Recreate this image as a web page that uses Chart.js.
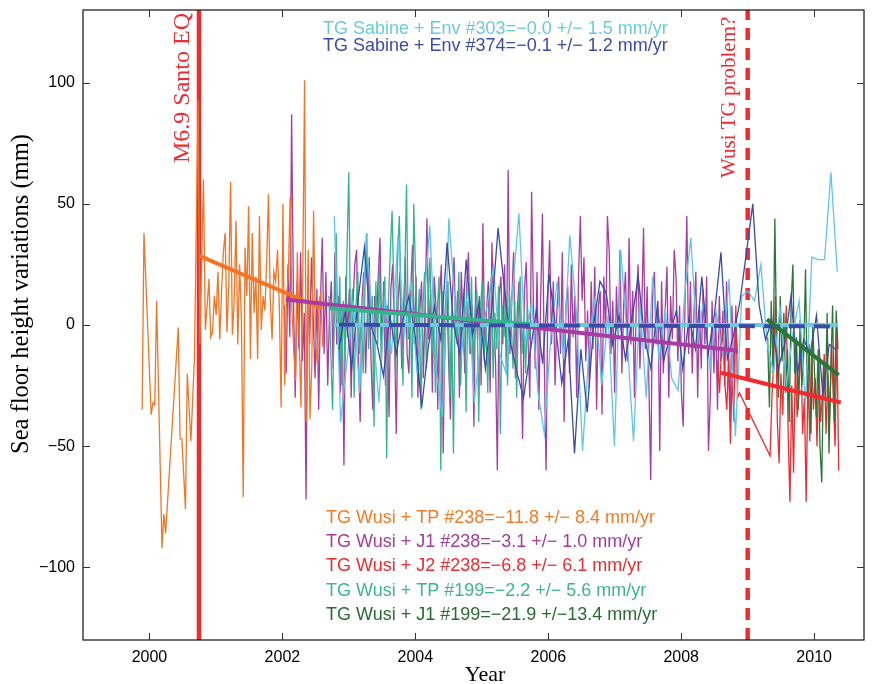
<!DOCTYPE html>
<html>
<head>
<meta charset="utf-8">
<script src="https://cdn.jsdelivr.net/npm/chart.js@4.4.1/dist/chart.umd.min.js"></script>
<style>
  html, body { margin: 0; padding: 0; background: #fff; }
  #wrap { width: 872px; height: 684px; }
</style>
</head>
<body>
<div id="wrap"><canvas id="c" width="872" height="684"></canvas></div>
<script>
// Repeat-cycle spacing of the altimeter passes, in years
const CYCLE_TPJ = 0.02715;   // TOPEX/Poseidon, Jason-1, Jason-2 (~9.92 d)
const CYCLE_ENV = 0.0958;    // Envisat (35 d)

const xTicks = [2000, 2002, 2004, 2006, 2008, 2010];
const yTicks = [-100, -50, 0, 50, 100];

// Event markers (decimal year)
const quakeYear = 2000.745;
const tgProblemYear = 2009.0;

// TG Wusi + TP #238 (null = missing cycle)
const wusiTP238Start = 1999.89;
const wusiTP238 = [
  -35, 38, null, null, null, -37, -32, -33, 10, null,
  null, -92, -78, -86, null, null, null, null, null, null,
  -1, -47, -47, null, -76, -20, null, -48, null, -13,
  null, 93, -8, 28, 60, -2, 8, 19, -5, -3,
  12, 4, 22, -6, 14, 30, 38, -3, 16, 59,
  -4, 10, 43, -8, 25, 2, -71, 32, 12, 49,
  -14, 38, 5, 20, -14, 45, -2, 12, 6, 26,
  54, 10, -6, 22, 18, 31, 8, -34, 50, -25,
  12, 20, 53, 6, -10, -23, 30, -5, -34, 20,
  101, -40, 31, -39, -17, 47, -6, -16, 10, 13,
  -9
];

// TG Wusi + J1 #238
const wusiJ1_238Start = 2002.03;
const wusiJ1_238 = [
  8, -20, 25, -5, 87, 12, -30, 18, -10, 30,
  -15, 5, -72, 20, -8, 28, 2, -22, 15, -35,
  10, 36, -12, 22, -25, 5, 18, -18, 30, -8,
  12, -28, 6, -58, 20, -5, 15, -30, 8, 25,
  31, -12, -40, 10, 22, -20, 5, 28, -15, -35,
  12, 0, 20, 36, -10, 18, -25, 8, -38, 15,
  25, -5, -45, 10, 22, -18, 6, 28, -12, -20,
  14, 33, -8, 20, -30, 5, 18, -22, 10, 44,
  -6, 15, -28, 20, 8, -35, 12, 25, -53, 5,
  18, -15, -39, 10, 28, -5, 14, -30, 22, 2,
  -20, 16, 30, -12, 8, -42, 20, -6, 12, -25,
  42, -10, 6, 18, -28, 34, 4, -15, -60, 12,
  20, -8, 25, -20, 64, -12, 10, 30, -22, 5,
  18, -10, -47, 14, 26, -6, -30, 55, 8, -18,
  22, -35, 10, 46, -15, -60, 12, 35, -8, 18,
  -25, 6, 20, -12, 30, -40, 8, 16, -20, 25,
  -5, 12, -30, 20, 45, 10, 28, -15, 6, -26,
  18, -10, 24, -35, 8, 14, -37, 20, -5, 45,
  30, -12, 10, -28, 16, -6, 31, -20, 8, 22,
  -15, 36, -8, 14, -30, 10, 25, -18, 5, 40,
  -10, 16, -25, -64, 12, 22, -8, 10, -52, 18,
  -20, 6, 24, -30, 12, -6, 31, 20, -15, 8,
  -28, -42, 10, 45, -12, 18, -20, 6, 22, -30,
  8, -18, 15, -8, 20, -52, -30, 10, -20, 5,
  -35, 12, -15, 6, -25, 18, -10, -40, 8, -22,
  4, -12
];

// TG Wusi + J2 #238
const wusiJ2_238Start = 2008.55;
const wusiJ2_238 = [
  -15, -28, -10, -2, -25, -35, -12, -49, -20, -40,
  8, -30, -28, null, null, null, null, null, null, null,
  null, null, null, null, null, null, null, null, null, -54,
  -30, -16, 12, -40, -57, -20, -37, -10, 8, -45,
  -73, -25, -61, -15, -38, -28, -5, -45, -30, -73,
  -20, -48, -10, -35, -22, -50, -15, -40, -28, -12,
  -45, -20, -38, -8, -30, -50, -2, -60
];

// TG Wusi + TP #199
const wusiTP199Start = 2002.70;
const wusiTP199 = [
  12, -10, -35, 5, 38, -8, 20, -25, 10, -15,
  30, 63, -5, 15, -30, 8, 22, -12, 4, -20,
  16, 38, -10, 6, 12, -42, 18, -8, 25, -18,
  5, 20, -55, 10, 30, 47, 14, -20, 28, 45,
  8, -25, 20, 58, -6, 12, -30, 50, 21, -10,
  15, -35, 6, 22, -18, 10, 28, -12, 14, -28,
  5, 20, -60, 14, -20, 8, 18, -30, 6, -53,
  12, -8, 22, -25, 4, 15, -36, 10, -12, 20,
  -20, 6, 14, -40, 8, 18, -15, 2, -28, 12,
  20, -22, 5, -10, 16, -45, 8, -5, 12, -25,
  14, 2, -18, 10, -30, 6, 20, -12, 4, -20,
  8, -6, 2
];

// TG Wusi + J1 #199
const wusiJ1_199Start = 2009.30;
const wusiJ1_199 = [
  -5, -34, 10, -20, 44, -8, -30, 12, -15, 5,
  -28, -10, -40, 8, 25, -20, -5, -35, 2, -25,
  -12, 23, -30, -8, -45, 0, -20, -38, -10, -50,
  -65, -15, -30, 5, -53, -20, 8, -40, 6, -10
];

// TG Sabine + Env #303
const sabineEnv303Start = 2002.78;
const sabineEnv303 = [
  45, -40, -15, 10, -28, 37, 2, -32, 12, -12,
  37, -5, 18, -20, 6, 41, -18, -38, 44, 8,
  -12, 16, -32, -6, 8, 24, -12, -20, 14, 46,
  -8, 10, -28, -45, -5, 18, -14, 37, 6, -52,
  -10, 12, -25, 4, -50, 31, -6, -48, 10, -30,
  20, -14, 6, -22, -27, 12, 36, -8, 10, -18,
  5, -12, 19, -46, 12, 14, 10, 25, -8, -20,
  8, -25, -4, 10, -33, 28, 27, 27, 63, 22
];

// TG Sabine + Env #374
const sabineEnv374Start = 2002.85;
const sabineEnv374 = [
  -10, 6, -18, 10, 32, 0, -8, -21, 4, -12,
  2, 12, -5, -34, -10, 8, -6, 34, 0, -12,
  27, -4, 9, -18, 6, 40, 15, -8, -20, -30,
  -12, 6, -16, 21, 0, -24, -6, -53, -10, -36,
  0, 18, 13, -8, 4, -14, 2, 20, -5, -18,
  8, -15, -4, 6, -18, 3, -10, 20, -12, 5,
  30, -14, -4, 10, 30, 50, 8, -6, 2, -18,
  -8, 12, -20, -6, -12, 4, -29, -8, -10
];

// Linear trends: [year, mm] at each end
const trendTP238 = [[2000.75, 28.5], [2002.6, 6.8]];
const trendJ1_238 = [[2002.05, 10.5], [2008.85, -10.6]];
const trendJ2_238 = [[2008.6, -19.7], [2010.4, -32]];
const trendTP199 = [[2002.7, 7], [2005.75, 0.3]];
const trendJ1_199 = [[2009.29, 2.3], [2010.37, -20.7]];
const trendEnv303 = [[2002.78, 0], [2010.36, 0]];
const trendEnv374 = [[2002.85, 0.1], [2010.36, -0.6]];

const COL = {
  orange: '#F37424',
  purple: '#A73CA3',
  red: '#EE2B30',
  teal: '#35B38C',
  green: '#2A7636',
  skyData: '#5EC6EC',
  skyTrend: '#6DCBD8',
  navy: '#3B4AA6'
};

function series(start, step, vals) {
  return vals.map((v, i) => ({ x: start + step * i, y: v }));
}
function pairs(arr) {
  return arr.map(p => ({ x: p[0], y: p[1] }));
}
function dataLine(data, color, order) {
  return { data, borderColor: color, borderWidth: 1.3, spanGaps: true, order };
}
function trendLine(data, color, order, dash) {
  return { data: pairs(data), borderColor: color, borderWidth: 4, borderDash: dash || [], order, borderCapStyle: 'butt' };
}

const Y_MIN = -130, Y_MAX = 130;

const datasets = [
  // event lines (drawn first)
  { data: [{ x: quakeYear, y: Y_MIN }, { x: quakeYear, y: Y_MAX }], borderColor: COL.red, borderWidth: 4.5, order: 100 },
  { data: [{ x: tgProblemYear, y: Y_MIN }, { x: tgProblemYear, y: Y_MAX }], borderColor: COL.red, borderWidth: 4.5, borderDash: [12, 8], order: 100 },

  dataLine(series(wusiJ1_238Start, CYCLE_TPJ, wusiJ1_238), COL.purple, 60),
  dataLine(series(wusiTP238Start, CYCLE_TPJ, wusiTP238), COL.orange, 58),
  dataLine(series(wusiTP199Start, CYCLE_TPJ, wusiTP199), COL.teal, 56),
  dataLine(series(wusiJ2_238Start, CYCLE_TPJ, wusiJ2_238), COL.red, 54),
  dataLine(series(wusiJ1_199Start, CYCLE_TPJ, wusiJ1_199), COL.green, 52),
  dataLine(series(sabineEnv303Start, CYCLE_ENV, sabineEnv303), COL.skyData, 50),
  dataLine(series(sabineEnv374Start, CYCLE_ENV, sabineEnv374), COL.navy, 48),

  trendLine(trendTP238, COL.orange, 10),
  trendLine(trendJ1_238, COL.purple, 9),
  trendLine(trendTP199, COL.teal, 8),
  trendLine(trendEnv303, COL.skyTrend, 7),
  trendLine(trendEnv374, COL.navy, 6, [16, 9]),
  trendLine(trendJ2_238, COL.red, 5),
  trendLine(trendJ1_199, COL.green, 4)
];

const SANS = '"Liberation Sans", Arial, Helvetica, sans-serif';
const SERIF = '"Liberation Serif", "Times New Roman", serif';

const topNotes = [
  { text: 'TG Sabine + Env #303=\u22120.0 +/\u2212 1.5 mm/yr', color: '#6BCBD8' },
  { text: 'TG Sabine + Env #374=\u22120.1 +/\u2212 1.2 mm/yr', color: '#3C4CA6' }
];
const bottomNotes = [
  { text: 'TG Wusi + TP #238=\u221211.8 +/\u2212 8.4 mm/yr', color: '#F47A26' },
  { text: 'TG Wusi + J1 #238=\u22123.1 +/\u2212 1.0 mm/yr', color: '#A43C9F' },
  { text: 'TG Wusi + J2 #238=\u22126.8 +/\u2212 6.1 mm/yr', color: '#EE2B30' },
  { text: 'TG Wusi + TP #199=\u22122.2 +/\u2212 5.6 mm/yr', color: '#3DB58E' },
  { text: 'TG Wusi + J1 #199=\u221221.9 +/\u221213.4 mm/yr', color: '#2A6B33' }
];

const framePlugin = {
  id: 'frame',
  afterDatasetsDraw(chart) {
    const { ctx, chartArea: a, scales } = chart;
    ctx.save();
    ctx.strokeStyle = '#111';
    ctx.lineWidth = 1.2;
    ctx.strokeRect(a.left, a.top, a.right - a.left, a.bottom - a.top);
    ctx.strokeStyle = '#333';
    ctx.lineWidth = 1;
    const tl = 7;
    ctx.beginPath();
    xTicks.forEach(v => {
      const px = Math.round(scales.x.getPixelForValue(v)) + 0.5;
      ctx.moveTo(px, a.bottom); ctx.lineTo(px, a.bottom - tl);
      ctx.moveTo(px, a.top); ctx.lineTo(px, a.top + tl);
    });
    yTicks.forEach(v => {
      const py = Math.round(scales.y.getPixelForValue(v)) + 0.5;
      ctx.moveTo(a.left, py); ctx.lineTo(a.left + tl, py);
      ctx.moveTo(a.right, py); ctx.lineTo(a.right - tl, py);
    });
    ctx.stroke();
    ctx.restore();
  },
  afterDraw(chart) {
    const { ctx, scales } = chart;
    ctx.save();
    // rate annotations
    ctx.font = '18px ' + SANS;
    ctx.textBaseline = 'middle';
    ctx.textAlign = 'left';
    topNotes.forEach((n, i) => { ctx.fillStyle = n.color; ctx.fillText(n.text, 323, 29 + i * 17); });
    bottomNotes.forEach((n, i) => { ctx.fillStyle = n.color; ctx.fillText(n.text, 326, 518 + i * 24.2); });

    // event labels, rotated
    ctx.fillStyle = COL.red;
    ctx.font = '24px ' + SERIF;
    const qx = scales.x.getPixelForValue(quakeYear) - 16;
    ctx.save(); ctx.translate(qx, 163); ctx.rotate(-Math.PI / 2);
    ctx.fillText('M6.9 Santo EQ', 0, 0); ctx.restore();
    ctx.font = '21px ' + SERIF;
    const px = scales.x.getPixelForValue(tgProblemYear) - 18;
    ctx.save(); ctx.translate(px, 178); ctx.rotate(-Math.PI / 2);
    ctx.fillText('Wusi TG problem?', 0, 0); ctx.restore();

    // axis titles
    ctx.fillStyle = '#000';
    ctx.font = '22px ' + SERIF;
    ctx.textAlign = 'center';
    ctx.fillText('Year', 485, 675);
    ctx.font = '24.5px ' + SERIF;
    ctx.save(); ctx.translate(22, 294); ctx.rotate(-Math.PI / 2);
    ctx.fillText('Sea floor height variations (mm)', 0, 0); ctx.restore();
    ctx.restore();
  }
};

new Chart(document.getElementById('c'), {
  type: 'line',
  data: { datasets },
  options: {
    responsive: false,
    animation: false,
    devicePixelRatio: 1,
    layout: { padding: { left: 0, right: 8, top: 10, bottom: 0 } },
    plugins: { legend: { display: false }, tooltip: { enabled: false } },
    elements: { point: { radius: 0 }, line: { tension: 0 } },
    scales: {
      x: {
        type: 'linear', min: 1999, max: 2010.75,
        grid: { display: false, drawTicks: false },
        border: { display: false },
        afterBuildTicks: s => { s.ticks = xTicks.map(v => ({ value: v })); },
        afterFit: s => { s.height = 44; s.paddingLeft = 0; s.paddingRight = 0; },
        ticks: {
          padding: 8, color: '#000', autoSkip: false, maxRotation: 0,
          font: { family: SANS, size: 16 },
          callback: v => String(v)
        }
      },
      y: {
        type: 'linear', min: Y_MIN, max: Y_MAX,
        grid: { display: false, drawTicks: false },
        border: { display: false },
        afterBuildTicks: s => { s.ticks = yTicks.map(v => ({ value: v })); },
        afterFit: s => { s.width = 83; s.paddingTop = 0; s.paddingBottom = 0; },
        ticks: {
          padding: 8, color: '#000',
          font: { family: SANS, size: 16 },
          callback: v => (v < 0 ? '\u2212' + Math.abs(v) : String(v))
        }
      }
    }
  },
  plugins: [framePlugin]
});
</script>
</body>
</html>
